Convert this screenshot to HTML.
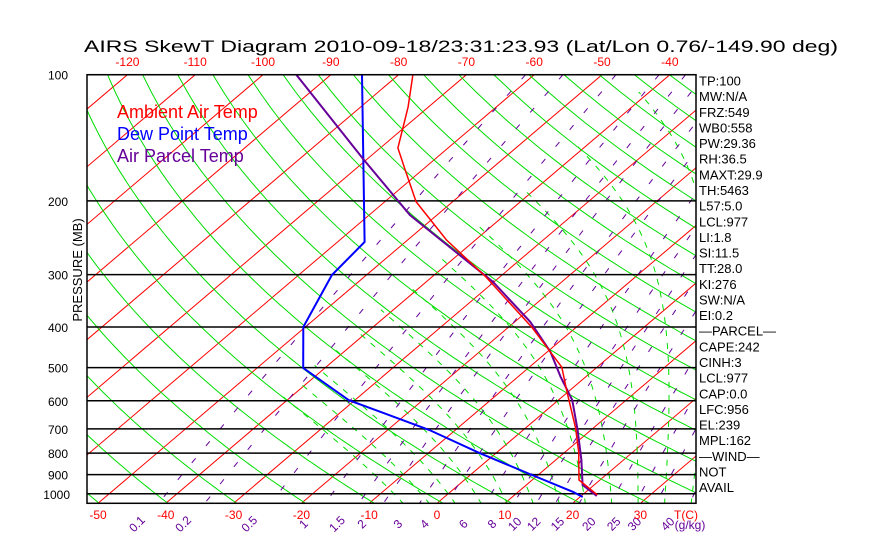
<!DOCTYPE html>
<html><head><meta charset="utf-8">
<style>
html,body{margin:0;padding:0;background:#fff;}
svg{display:block;font-family:"Liberation Sans",sans-serif;}
</style></head>
<body>
<svg id="chart" width="870" height="560" viewBox="0 0 870 560" xmlns="http://www.w3.org/2000/svg">
<defs><clipPath id="plotclip"><rect x="87" y="74.7" width="609" height="428.6"/></clipPath></defs>
<text x="84" y="52" font-size="17" textLength="754" lengthAdjust="spacingAndGlyphs" fill="#000">AIRS SkewT Diagram 2010-09-18/23:31:23.93 (Lat/Lon 0.76/-149.90 deg)</text>
<g id="grid" clip-path="url(#plotclip)"></g>
<g id="series" clip-path="url(#plotclip)"></g>
<rect x="87" y="74.7" width="609" height="428.6" fill="none" stroke="#000" stroke-width="1.5"/>
<g id="labels"></g>
<text transform="translate(82,270) rotate(-90)" text-anchor="middle" font-size="13" fill="#000">PRESSURE (MB)</text>
<text x="117" y="118" font-size="18" fill="#ff0000">Ambient Air Temp</text>
<text x="117" y="140" font-size="18" fill="#0000ff">Dew Point Temp</text>
<text x="117" y="162" font-size="18" fill="#660099">Air Parcel Temp</text>
</svg>
<script>
// ---- data ----
const pressureLevels = [100,200,300,400,500,600,700,800,900,1000];
const isothermTicksTop = [-120,-110,-100,-90,-80,-70,-60,-50,-40];
const isothermTicksBottom = [-50,-40,-30,-20,-10,0,10,20,30];
const mixingRatios = [0.1,0.2,0.5,1,1.5,2,3,4,6,8,10,12,15,20,25,30,40];
const tempP = [100,119.4,149.6,168.8,200.9,224.6,247.9,304,400.2,498.8,566,697,795,927,1006];
const tempT = [-77.9,-73.0,-67.4,-62.5,-55.4,-49.5,-44.3,-32.0,-16.6,-5.2,-0.5,7.4,12.0,16.9,22.2];
const dewP = [100,250.8,300.6,400,501,598,704,799,902,990,1018];
const dewT = [-85.4,-56.0,-55.1,-50.3,-43.2,-30.9,-13.9,-2.5,9.1,18.1,20.4];
const parcelP = [100,158.9,216.2,312.4,389,459,526,597,704,831,953,1012];
const parcelT = [-95.1,-70.6,-54.0,-30.1,-17.7,-9.5,-3.7,2.0,8.0,13.8,18.3,22.3];
const indexLabels = ["TP:100","MW:N/A","FRZ:549","WB0:558","PW:29.36","RH:36.5","MAXT:29.9","TH:5463","L57:5.0","LCL:977"," LI:1.8","SI:11.5","TT:28.0","KI:276","SW:N/A"," EI:0.2","\u2014PARCEL\u2014","CAPE:242"," CINH:3","LCL:977","CAP:0.0","LFC:956","EL:239","MPL:162","\u2014WIND\u2014"," NOT","AVAIL"];

// ---- axes ----
const TOP=74.7, BOT=503.3, LEFT=87, RIGHT=696;
function yP(p){return TOP+182*Math.log(p/100);}
function xT(t,p){const y=yP(p);return 437+6.78*t+(BOT-y)*1.176;}
const NS="http://www.w3.org/2000/svg";
const grid=document.getElementById('grid'), series=document.getElementById('series'), labels=document.getElementById('labels');
function mk(tag,attrs,parent){const e=document.createElementNS(NS,tag);for(const k in attrs)e.setAttribute(k,attrs[k]);parent.appendChild(e);return e;}
function pathFrom(ps,ts){return ps.map((p,i)=>(i?'L':'M')+xT(ts[i],p).toFixed(1)+' '+yP(p).toFixed(1)).join(' ');}

// isotherms
for(let t=-140;t<=60;t+=10){
  const l=mk('line',{x1:xT(t,1050),y1:yP(1050),x2:xT(t,100),y2:yP(100),stroke:'#ff0000','stroke-width':1},grid);
  
  
}
// dry adiabats
for(let th=200;th<=560;th+=10){
  const ps=[],ts=[];
  for(let p=100;p<=1060;p+=10){ps.push(p);ts.push(th*Math.pow(p/1000,0.2857)-273.15);}
  const l=mk('path',{d:pathFrom(ps,ts),stroke:'#00dd00',fill:'none','stroke-width':1},grid);
  
  
}
// moist adiabats
function es(tc){return 6.112*Math.exp(17.67*tc/(tc+243.5));}
function dTdp(T,p){const Rd=287,Lv=2.5e6,cp=1005,eps=0.622;const tc=T-273.15;const e=es(tc);const rs=eps*e/(p-e);
  return (1/p)*(Rd*T+Lv*rs)/(cp+Lv*Lv*rs*eps/(Rd*T*T));}
for(let tw=-8;tw<=40;tw+=4){
  const ps=[],ts=[];let T=tw+273.15;
  let T2=T;const low=[];for(let p=1000;p<1060;p+=2){T2+=dTdp(T2,p)*2;low.push([p+2,T2]);}
  low.reverse().forEach(a=>{ps.push(a[0]);ts.push(a[1]-273.15);});
  ps.push(1000);ts.push(tw);
  for(let p=1000;p>100;p-=2){T-=dTdp(T,p)*2;if(T-273.15<-42)break;ps.push(p-2);ts.push(T-273.15);}
  const l=mk('path',{d:pathFrom(ps,ts),stroke:'#00dd00',fill:'none','stroke-width':1,'stroke-dasharray':'6,7'},grid);
  
  
}
// mixing ratio lines
function tdFromW(w,p){const e=w*p/(622+w);const a=Math.log(e/6.112);return 243.5*a/(17.67-a);}
mixingRatios.forEach(w=>{
  const ps=[],ts=[];for(let p=100;p<=1060;p+=20){ps.push(p);ts.push(tdFromW(w,p));}
  const l=mk('path',{d:pathFrom(ps,ts),stroke:'#660099',fill:'none','stroke-width':1,'stroke-dasharray':'6,16'},grid);
  
  
  const x=xT(tdFromW(w,1050),1050)-22;
  const t=mk('text',{x:x,y:528,'font-size':12,fill:'#660099','text-anchor':'middle',transform:`rotate(-45 ${x} 524)`},labels);
  t.textContent=w;
  
  
});
// pressure lines and labels
pressureLevels.forEach(p=>{
  const y=yP(p);
  const l=mk('line',{x1:LEFT,y1:y,x2:RIGHT,y2:y,stroke:'#000','stroke-width':1.5},grid);
  
  
  const t=mk('text',{x:p===1000?70:68,y:y+5,'font-size':12,fill:'#000','text-anchor':'end'},labels);
  t.textContent=p;
  
  
});
isothermTicksTop.forEach(v=>{
  const t=mk('text',{x:xT(v,100),y:66,'font-size':12,fill:'#ff0000','text-anchor':'middle'},labels);
  t.textContent=v;
  
  
});
isothermTicksBottom.forEach(v=>{
  const t=mk('text',{x:437+6.78*v,y:519,'font-size':12,fill:'#ff0000','text-anchor':'middle'},labels);
  t.textContent=v;
  
  
});
const tc=mk('text',{x:686,y:519,'font-size':12,fill:'#ff0000','text-anchor':'middle'},labels);
tc.textContent='T(C)';


const gk=mk('text',{x:690,y:529,'font-size':12,fill:'#660099','text-anchor':'middle'},labels);
gk.textContent='(g/kg)';


// index labels
indexLabels.forEach((s,i)=>{
  const t=mk('text',{x:699,y:85.5+i*15.64,'font-size':13,fill:'#000','xml:space':'preserve'},labels);
  t.textContent=s;
  
  
});
// profiles
const dl=mk('path',{d:pathFrom(dewP,dewT),stroke:'#0000ff',fill:'none','stroke-width':2},series);


const pl=mk('path',{d:pathFrom(parcelP,parcelT),stroke:'#660099',fill:'none','stroke-width':2},series);


const tl=mk('path',{d:pathFrom(tempP,tempT),stroke:'#ff0000',fill:'none','stroke-width':1.5},series);


</script>
</body></html>
